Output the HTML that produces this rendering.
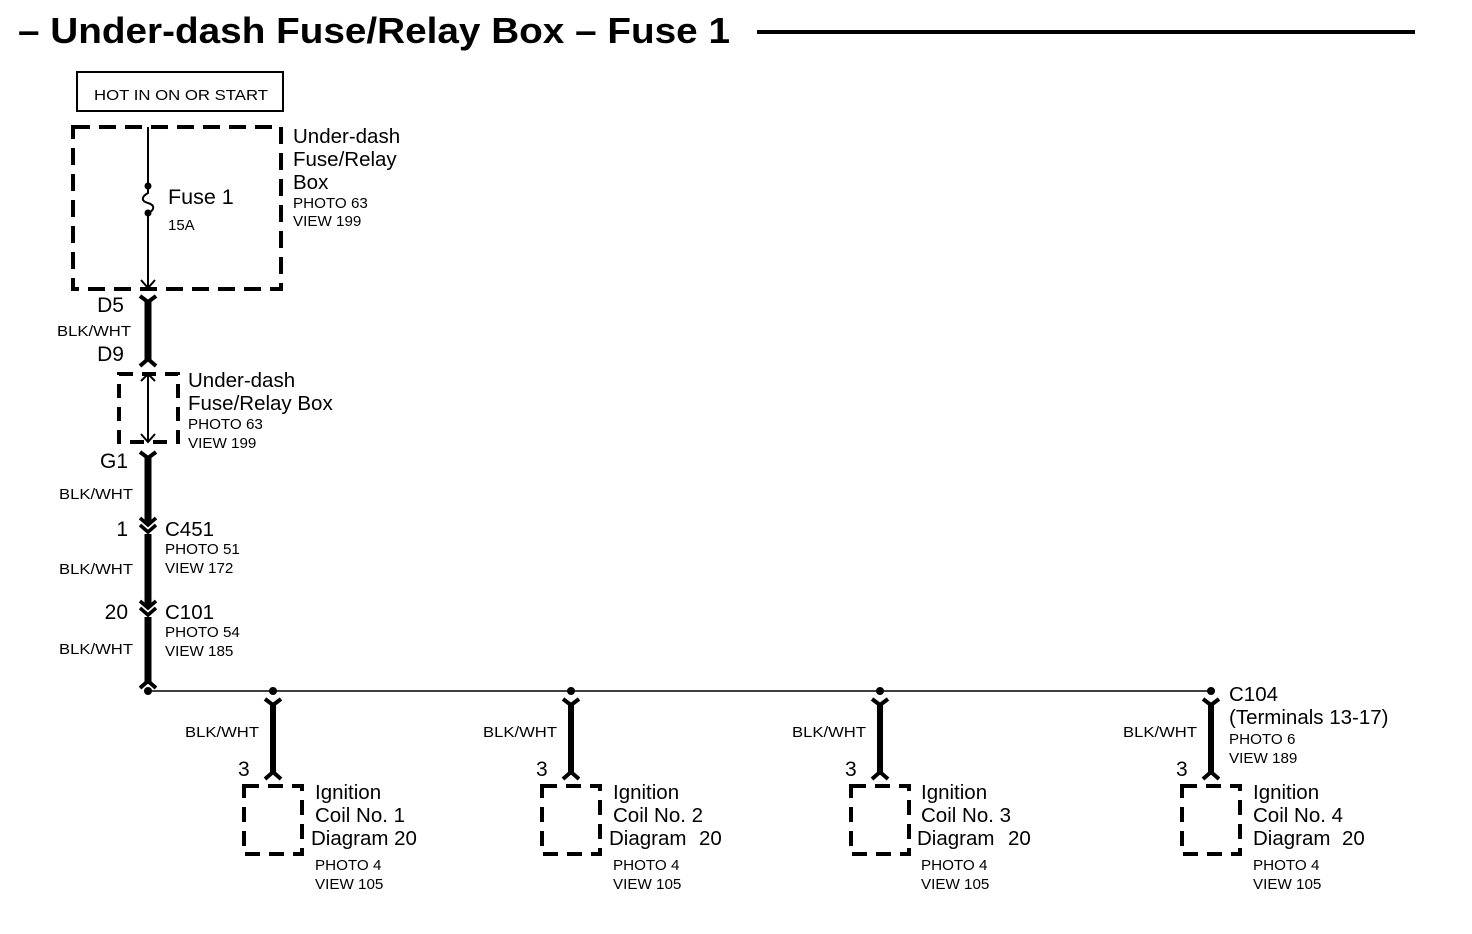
<!DOCTYPE html>
<html><head><meta charset="utf-8"><style>
html,body{margin:0;padding:0;background:#fff;}
svg{display:block;}
text{font-family:"Liberation Sans",Arial,sans-serif;fill:#000;}
</style></head><body>
<svg width="1472" height="934" viewBox="0 0 1472 934" xmlns="http://www.w3.org/2000/svg">

<text x="18" y="43" font-size="36" font-weight="bold" textLength="712" lengthAdjust="spacingAndGlyphs">– Under-dash Fuse/Relay Box – Fuse 1</text>
<rect x="757" y="30" width="658" height="4" fill="#000"/>

<rect x="77" y="72" width="206" height="39" fill="none" stroke="#000" stroke-width="2"/>
<text x="181" y="100" font-size="15" text-anchor="middle" textLength="174" lengthAdjust="spacingAndGlyphs">HOT IN ON OR START</text>

<rect x="73" y="127" width="208" height="162" fill="none" stroke="#000" stroke-width="4" stroke-dasharray="17,9"/>
<line x1="148" y1="127" x2="148" y2="186" stroke="#000" stroke-width="2"/>
<circle cx="148" cy="186" r="3.5"/>
<path d="M148,186 L148,193 C141,197 141,201 148,203 C155,205 155,210 148,213" fill="none" stroke="#000" stroke-width="2"/>
<circle cx="148" cy="213" r="3.5"/>
<line x1="148" y1="213" x2="148" y2="287" stroke="#000" stroke-width="2"/>
<path d="M141,280 L148,288 L155,280" fill="none" stroke="#000" stroke-width="2"/>
<text x="168" y="204" font-size="21.5">Fuse 1</text>
<text x="168" y="230" font-size="15">15A</text>
<g font-size="20.5">
<text x="293" y="143">Under-dash</text>
<text x="293" y="166">Fuse/Relay</text>
<text x="293" y="189">Box</text>
</g>
<g font-size="15.2">
<text x="293" y="208">PHOTO 63</text>
<text x="293" y="226">VIEW 199</text>
</g>

<path d="M140,296 L148,302 L156,296" fill="none" stroke="#000" stroke-width="4"/>
<line x1="148" y1="300" x2="148" y2="360" stroke="#000" stroke-width="7"/>
<path d="M140,366 L148,359 L156,366" fill="none" stroke="#000" stroke-width="4"/>
<text x="124" y="312" font-size="21" text-anchor="end">D5</text>
<text x="131" y="336" font-size="15" text-anchor="end" textLength="74" lengthAdjust="spacingAndGlyphs">BLK/WHT</text>
<text x="124" y="361" font-size="21" text-anchor="end">D9</text>

<rect x="119" y="374" width="59" height="68" fill="none" stroke="#000" stroke-width="4" stroke-dasharray="14,9"/>
<line x1="148" y1="373" x2="148" y2="442" stroke="#000" stroke-width="2"/>
<path d="M141,381 L148,374 L155,381" fill="none" stroke="#000" stroke-width="2"/>
<path d="M141,434 L148,442 L155,434" fill="none" stroke="#000" stroke-width="2"/>
<text x="188" y="387" font-size="20.5">Under-dash</text>
<text x="188" y="410" font-size="20.5">Fuse/Relay Box</text>
<text x="188" y="429" font-size="15.2">PHOTO 63</text>
<text x="188" y="448" font-size="15.2">VIEW 199</text>

<path d="M140,452 L148,458 L156,452" fill="none" stroke="#000" stroke-width="4"/>
<line x1="148" y1="456" x2="148" y2="684" stroke="#000" stroke-width="7"/>
<text x="128" y="468" font-size="21" text-anchor="end">G1</text>
<text x="133" y="499" font-size="15" text-anchor="end" textLength="74" lengthAdjust="spacingAndGlyphs">BLK/WHT</text>

<rect x="138" y="517" width="20" height="17" fill="#fff"/>
<line x1="148" y1="517" x2="148" y2="524" stroke="#000" stroke-width="7"/>
<path d="M140,518 L148,525 L156,518 M140,525 L148,532 L156,525" fill="none" stroke="#000" stroke-width="3.5"/>
<text x="128" y="536" font-size="21" text-anchor="end">1</text>
<text x="165" y="536" font-size="20.5">C451</text>
<text x="165" y="554" font-size="15.2">PHOTO 51</text>
<text x="165" y="573" font-size="15.2">VIEW 172</text>
<text x="133" y="574" font-size="15" text-anchor="end" textLength="74" lengthAdjust="spacingAndGlyphs">BLK/WHT</text>

<rect x="138" y="600" width="20" height="17" fill="#fff"/>
<line x1="148" y1="600" x2="148" y2="607" stroke="#000" stroke-width="7"/>
<path d="M140,601 L148,608 L156,601 M140,608 L148,615 L156,608" fill="none" stroke="#000" stroke-width="3.5"/>
<text x="128" y="619" font-size="21" text-anchor="end">20</text>
<text x="165" y="619" font-size="20.5">C101</text>
<text x="165" y="637" font-size="15.2">PHOTO 54</text>
<text x="165" y="656" font-size="15.2">VIEW 185</text>
<text x="133" y="654" font-size="15" text-anchor="end" textLength="74" lengthAdjust="spacingAndGlyphs">BLK/WHT</text>
<path d="M140,688 L148,681 L156,688" fill="none" stroke="#000" stroke-width="4"/>
<circle cx="148" cy="691" r="4"/>

<line x1="148" y1="691" x2="1211" y2="691" stroke="#000" stroke-width="1.5"/>

<g id="b1">
<circle cx="273" cy="691" r="4"/>
<path d="M265,699 L273,705 L281,699" fill="none" stroke="#000" stroke-width="4"/>
<line x1="273" y1="703" x2="273" y2="773" stroke="#000" stroke-width="6"/>
<path d="M265,779 L273,772 L281,779" fill="none" stroke="#000" stroke-width="4"/>
<rect x="244" y="786" width="58" height="68" fill="none" stroke="#000" stroke-width="4" stroke-dasharray="15,9"/>
</g>
<use href="#b1" x="298"/>
<use href="#b1" x="607"/>
<use href="#b1" x="938"/>

<g font-size="15">
<text x="259" y="737" text-anchor="end" textLength="74" lengthAdjust="spacingAndGlyphs">BLK/WHT</text>
<text x="557" y="737" text-anchor="end" textLength="74" lengthAdjust="spacingAndGlyphs">BLK/WHT</text>
<text x="866" y="737" text-anchor="end" textLength="74" lengthAdjust="spacingAndGlyphs">BLK/WHT</text>
<text x="1197" y="737" text-anchor="end" textLength="74" lengthAdjust="spacingAndGlyphs">BLK/WHT</text>
</g>

<g font-size="21">
<text x="238" y="776">3</text>
<text x="536" y="776">3</text>
<text x="845" y="776">3</text>
<text x="1176" y="776">3</text>
</g>

<g font-size="20.5">
<text x="315" y="799">Ignition</text><text x="315" y="822">Coil No. 1</text><text x="311" y="845">Diagram 20</text>
<text x="613" y="799">Ignition</text><text x="613" y="822">Coil No. 2</text><text x="609" y="845">Diagram</text><text x="699" y="845">20</text>
<text x="921" y="799">Ignition</text><text x="921" y="822">Coil No. 3</text><text x="917" y="845">Diagram</text><text x="1008" y="845">20</text>
<text x="1253" y="799">Ignition</text><text x="1253" y="822">Coil No. 4</text><text x="1253" y="845">Diagram</text><text x="1342" y="845">20</text>
</g>
<g font-size="15.2">
<text x="315" y="870">PHOTO 4</text><text x="315" y="889">VIEW 105</text>
<text x="613" y="870">PHOTO 4</text><text x="613" y="889">VIEW 105</text>
<text x="921" y="870">PHOTO 4</text><text x="921" y="889">VIEW 105</text>
<text x="1253" y="870">PHOTO 4</text><text x="1253" y="889">VIEW 105</text>
</g>

<text x="1229" y="701" font-size="20.5">C104</text>
<text x="1229" y="724" font-size="20.5">(Terminals 13-17)</text>
<text x="1229" y="744" font-size="15.2">PHOTO 6</text>
<text x="1229" y="763" font-size="15.2">VIEW 189</text>
</svg>
</body></html>
